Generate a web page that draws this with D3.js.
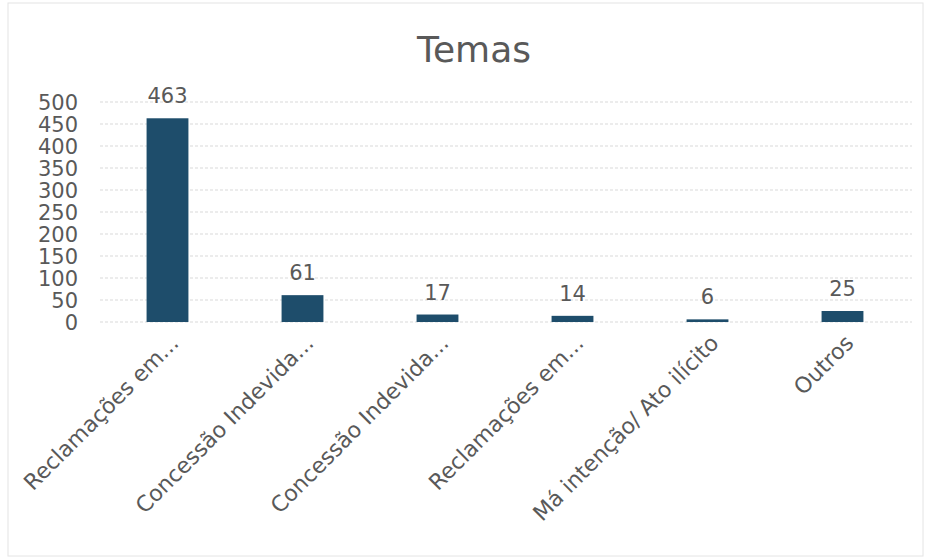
<!DOCTYPE html>
<html><head><meta charset="utf-8">
<script src="https://cdn.jsdelivr.net/npm/d3@7/dist/d3.min.js"></script>
<style>body{margin:0;background:#fff}svg{display:block}text{font-family:"DejaVu Sans",Verdana,sans-serif;fill:#595959}</style>
</head><body>
<script>
const categories = ["Reclamações em...", "Concessão Indevida...", "Concessão Indevida...", "Reclamações em...", "Má intenção/ Ato ilícito", "Outros"];
const values = [463, 61, 17, 14, 6, 25];
const yTicks = [0, 50, 100, 150, 200, 250, 300, 350, 400, 450, 500];
const title = "Temas";

const W = 929, H = 559;
const svg = d3.select("body").append("svg").attr("width", W).attr("height", H);
svg.append("rect").attr("x", 8).attr("y", 3).attr("width", 915).attr("height", 553)
  .attr("fill", "#fff").attr("stroke", "#e4e4e4");

const x = d3.scaleBand().domain(d3.range(categories.length)).range([100, 910]).paddingInner(0.69).paddingOuter(0.345);
const y = d3.scaleLinear().domain([0, 500]).range([322, 102]);

svg.append("g").selectAll("line").data(yTicks).join("line")
  .attr("x1", 100).attr("x2", 912).attr("y1", d => y(d)).attr("y2", d => y(d))
  .attr("stroke", "#d9d9d9").attr("stroke-dasharray", "3,2");

const yAxis = svg.append("g").attr("transform", "translate(85,0)")
  .call(d3.axisLeft(y).tickValues(yTicks).tickSize(0).tickPadding(7));
yAxis.select(".domain").remove();
yAxis.selectAll("text").style("font-size", "21px").attr("fill", "#5f5f5f").attr("dy", "0.36em");

svg.append("g").selectAll("rect").data(values).join("rect")
  .attr("x", (d, i) => x(i)).attr("width", x.bandwidth())
  .attr("y", d => y(d)).attr("height", d => y(0) - y(d))
  .attr("fill", "#1e4d6b");

svg.append("g").selectAll("text").data(values).join("text")
  .attr("x", (d, i) => x(i) + x.bandwidth() / 2).attr("y", d => y(d) - 15)
  .attr("text-anchor", "middle").style("font-size", "21px").text(d => d);

svg.append("g").selectAll("text").data(categories).join("text")
  .attr("transform", (d, i) => `translate(${x(i) + x.bandwidth() / 2 + 7},${y(0) + 17}) rotate(-45)`)
  .attr("text-anchor", "end").attr("dy", "0.35em").style("font-size", "22px").text(d => d);

svg.append("text").attr("x", 474).attr("y", 62).attr("text-anchor", "middle")
  .style("font-size", "36px").text(title);
</script>
</body></html>
